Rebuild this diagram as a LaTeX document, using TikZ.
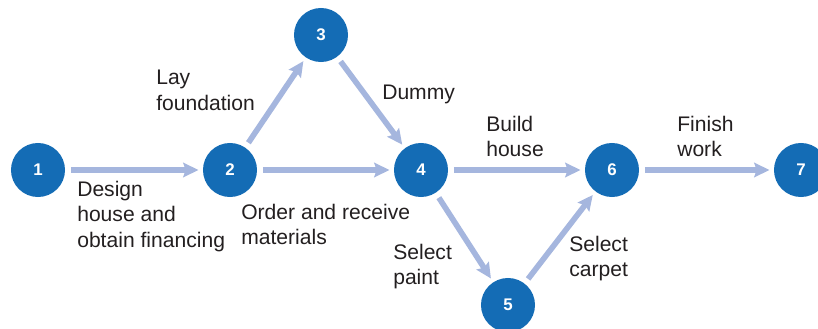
\documentclass[tikz,border=0pt]{standalone}
\usepackage{fontspec}
\setmainfont{Liberation Sans}
\usetikzlibrary{arrows.meta,positioning}
\definecolor{evtB}{RGB}{20,108,181}
\definecolor{actL}{RGB}{165,182,222}
\definecolor{txtG}{RGB}{35,31,32}

\begin{document}
\begin{tikzpicture}[x=0.025cm, y=-0.025cm,
  >={Stealth[length=3.8mm, width=3.6mm, inset=0.6mm]},
  ev/.style={circle, fill=evtB, text=white, minimum size=1.35cm, inner sep=0pt,
             font=\fontsize{12}{14}\selectfont\bfseries},
  act/.style={->, draw=actL, line width=4pt, shorten <=4pt, shorten >=3pt},
  lbl/.style={anchor=north west, inner sep=0pt, align=left, text=txtG,
              font=\fontsize{15}{18.4}\selectfont}]
  \useasboundingbox (0,0) rectangle (818,329);
  % events
  \node[ev] (n1) at (38,170)  {1};
  \node[ev] (n2) at (230,170) {2};
  \node[ev] (n3) at (321,35)  {3};
  \node[ev] (n4) at (421,170) {4};
  \node[ev] (n5) at (508,305) {5};
  \node[ev] (n6) at (612,170) {6};
  \node[ev] (n7) at (801,170) {7};
  % activities
  \draw[act] (n1) -- (n2);
  \draw[act] (n2) -- (n3);
  \draw[act] (n2) -- (n4);
  \draw[act] (n3) -- (n4);
  \draw[act] (n4) -- (n6);
  \draw[act] (n4) -- (n5);
  \draw[act] (n5) -- (n6);
  \draw[act] (n6) -- (n7);
  % labels
  \node[lbl] (lDes) at (77,180.5)  {Design\\house and\\obtain financing};
  \node[lbl] (lLay) at (156,69.5)  {Lay\\foundation};
  \node[lbl] (lDum) at (382,84.5)  {Dummy};
  \node[lbl] (lOrd) at (241,203.5) {Order and receive\\materials};
  \node[lbl] (lBui) at (486,115.5) {Build\\house};
  \node[lbl] (lPai) at (393,243.5) {Select\\paint};
  \node[lbl] (lCar) at (569,235.5) {Select\\carpet};
  \node[lbl] (lFin) at (677,115.5) {Finish\\work};
\end{tikzpicture}
\end{document}
